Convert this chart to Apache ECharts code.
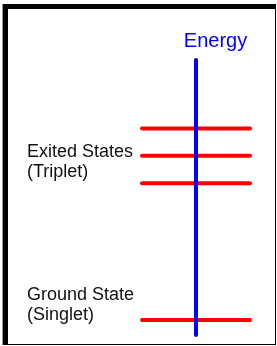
<!DOCTYPE html>
<html>
<head>
<meta charset="utf-8">
<script src="https://cdn.jsdelivr.net/npm/echarts@6/dist/echarts.min.js"></script>
<style>
html,body{margin:0;padding:0;background:#fff;}
#c{width:277px;height:346px;}
</style>
</head>
<body>
<div id="c"></div>
<script>
// Energy levels (arbitrary units)
const groundLevels = [0];
const tripletLevels = [5, 6, 7];
const levelSpan = [-1, 1];
const axisName = 'Energy';
const stateLabels = ['Exited States\n(Triplet)', 'Ground State\n(Singlet)'];

const chart = echarts.init(document.getElementById('c'), null, {renderer: 'canvas'});

function levelSeries(levels) {
  return levels.map(function (e) {
    return {
      type: 'line',
      data: [[levelSpan[0], e], [levelSpan[1], e]],
      symbol: 'none',
      silent: true,
      z: 1,
      lineStyle: {color: '#ff0000', width: 4, cap: 'round'}
    };
  });
}

const FONT = '"Liberation Sans", Arial, sans-serif';

chart.setOption({
  animation: false,
  backgroundColor: '#fff',
  grid: {left: 142, right: 27, top: 60, bottom: 11},
  xAxis: {type: 'value', min: -1, max: 1, show: false},
  yAxis: {
    type: 'value', min: -0.55, max: 9.5,
    z: 5,
    axisLine: {show: true, onZero: true, lineStyle: {color: '#0000ff', width: 4, cap: 'round'}},
    axisTick: {show: false}, axisLabel: {show: false}, splitLine: {show: false},
    name: axisName, nameLocation: 'end', nameGap: 9,
    nameTextStyle: {color: '#0000ff', fontSize: 20, fontFamily: FONT, padding: [0, 0, 0, 39]}
  },
  series: levelSeries(tripletLevels).concat(levelSeries(groundLevels)),
  graphic: [
    {type: 'rect', shape: {x: 2, y: 4, width: 1, height: 341}, style: {fill: '#999'}, z: -10},
    {type: 'rect', shape: {x: 3, y: 4, width: 273, height: 341}, style: {fill: '#000'}, z: -10},
    {type: 'rect', shape: {x: 8, y: 9, width: 267, height: 335}, style: {fill: '#fff'}, z: -9},
    {type: 'text', left: 27, top: 142, z: 10,
      style: {text: stateLabels[0], font: '18px ' + FONT, fill: '#111', lineHeight: 20}},
    {type: 'text', left: 27, top: 285, z: 10,
      style: {text: stateLabels[1], font: '18px ' + FONT, fill: '#111', lineHeight: 20}}
  ]
});
</script>
</body>
</html>
